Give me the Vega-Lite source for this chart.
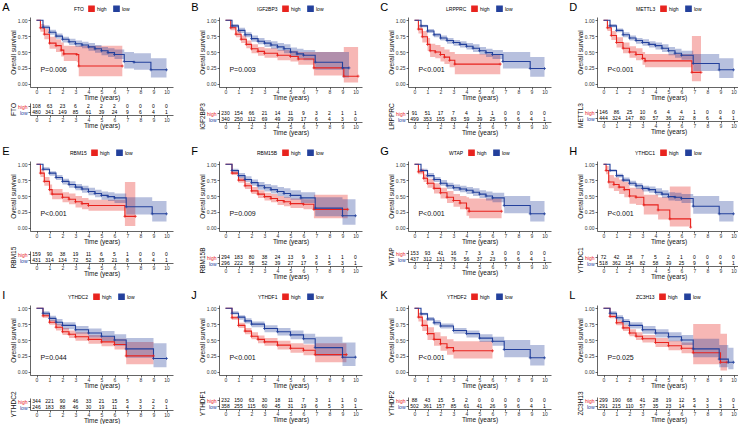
{
"$schema":"https://vega.github.io/schema/vega-lite/v6.json",
"padding":{"left":2,"top":2,"right":0,"bottom":0},
"columns":4,
"spacing":{"row":10,"column":18},
"resolve":{"scale":{"color":"independent"}},
"datasets":{
"km":[
{"p":"A","g":"high","t":0,"s":1,"l":1,"u":1},{"p":"A","g":"high","t":0.3,"s":0.88,"l":0.82,"u":0.94},{"p":"A","g":"high","t":0.6,"s":0.78,"l":0.7,"u":0.86},{"p":"A","g":"high","t":1,"s":0.64,"l":0.55,"u":0.74},{"p":"A","g":"high","t":1.5,"s":0.6,"l":0.5,"u":0.7},{"p":"A","g":"high","t":1.9,"s":0.53,"l":0.43,"u":0.65},{"p":"A","g":"high","t":2.1,"s":0.47,"l":0.36,"u":0.6},{"p":"A","g":"high","t":3.1,"s":0.46,"l":0.34,"u":0.59},{"p":"A","g":"high","t":3.25,"s":0.28,"l":0.12,"u":0.6},{"p":"A","g":"high","t":6.6,"s":0.28,"l":0.12,"u":0.6},
{"p":"A","g":"low","t":0,"s":1,"l":1,"u":1},{"p":"A","g":"low","t":0.5,"s":0.89,"l":0.86,"u":0.92},{"p":"A","g":"low","t":1,"s":0.81,"l":0.77,"u":0.85},{"p":"A","g":"low","t":1.5,"s":0.75,"l":0.71,"u":0.79},{"p":"A","g":"low","t":2,"s":0.7,"l":0.65,"u":0.74},{"p":"A","g":"low","t":2.5,"s":0.66,"l":0.61,"u":0.71},{"p":"A","g":"low","t":3,"s":0.63,"l":0.58,"u":0.68},{"p":"A","g":"low","t":3.5,"s":0.61,"l":0.56,"u":0.66},{"p":"A","g":"low","t":4,"s":0.58,"l":0.52,"u":0.64},{"p":"A","g":"low","t":4.5,"s":0.55,"l":0.49,"u":0.61},{"p":"A","g":"low","t":5,"s":0.52,"l":0.45,"u":0.58},{"p":"A","g":"low","t":5.5,"s":0.49,"l":0.42,"u":0.56},{"p":"A","g":"low","t":6,"s":0.46,"l":0.39,"u":0.54},{"p":"A","g":"low","t":6.75,"s":0.35,"l":0.24,"u":0.5},{"p":"A","g":"low","t":7.5,"s":0.34,"l":0.22,"u":0.48},{"p":"A","g":"low","t":8.8,"s":0.22,"l":0.1,"u":0.4},{"p":"A","g":"low","t":10,"s":0.22,"l":0.1,"u":0.4},
{"p":"B","g":"high","t":0,"s":1,"l":1,"u":1},{"p":"B","g":"high","t":0.4,"s":0.88,"l":0.84,"u":0.92},{"p":"B","g":"high","t":0.8,"s":0.78,"l":0.73,"u":0.83},{"p":"B","g":"high","t":1.2,"s":0.7,"l":0.64,"u":0.76},{"p":"B","g":"high","t":1.6,"s":0.62,"l":0.56,"u":0.68},{"p":"B","g":"high","t":2,"s":0.55,"l":0.48,"u":0.62},{"p":"B","g":"high","t":2.5,"s":0.51,"l":0.44,"u":0.58},{"p":"B","g":"high","t":3,"s":0.48,"l":0.41,"u":0.56},{"p":"B","g":"high","t":4,"s":0.45,"l":0.37,"u":0.53},{"p":"B","g":"high","t":5,"s":0.43,"l":0.35,"u":0.52},{"p":"B","g":"high","t":5.6,"s":0.39,"l":0.3,"u":0.5},{"p":"B","g":"high","t":6.8,"s":0.25,"l":0.13,"u":0.5},{"p":"B","g":"high","t":9.1,"s":0.12,"l":0.02,"u":0.58},{"p":"B","g":"high","t":10.2,"s":0.12,"l":0.02,"u":0.58},
{"p":"B","g":"low","t":0,"s":1,"l":1,"u":1},{"p":"B","g":"low","t":0.5,"s":0.91,"l":0.88,"u":0.94},{"p":"B","g":"low","t":1,"s":0.84,"l":0.8,"u":0.88},{"p":"B","g":"low","t":1.5,"s":0.77,"l":0.73,"u":0.81},{"p":"B","g":"low","t":2,"s":0.71,"l":0.66,"u":0.76},{"p":"B","g":"low","t":2.5,"s":0.67,"l":0.62,"u":0.72},{"p":"B","g":"low","t":3,"s":0.64,"l":0.58,"u":0.69},{"p":"B","g":"low","t":3.5,"s":0.61,"l":0.55,"u":0.67},{"p":"B","g":"low","t":4,"s":0.58,"l":0.52,"u":0.64},{"p":"B","g":"low","t":4.5,"s":0.55,"l":0.48,"u":0.62},{"p":"B","g":"low","t":5,"s":0.5,"l":0.43,"u":0.57},{"p":"B","g":"low","t":5.5,"s":0.47,"l":0.4,"u":0.55},{"p":"B","g":"low","t":6,"s":0.45,"l":0.37,"u":0.53},{"p":"B","g":"low","t":6.9,"s":0.34,"l":0.22,"u":0.5},{"p":"B","g":"low","t":9,"s":0.25,"l":0.1,"u":0.5},{"p":"B","g":"low","t":9.5,"s":0.25,"l":0.1,"u":0.5},
{"p":"C","g":"high","t":0,"s":1,"l":1,"u":1},{"p":"C","g":"high","t":0.3,"s":0.86,"l":0.79,"u":0.93},{"p":"C","g":"high","t":0.6,"s":0.74,"l":0.65,"u":0.83},{"p":"C","g":"high","t":1,"s":0.62,"l":0.52,"u":0.72},{"p":"C","g":"high","t":1.2,"s":0.52,"l":0.42,"u":0.63},{"p":"C","g":"high","t":1.6,"s":0.5,"l":0.4,"u":0.61},{"p":"C","g":"high","t":2,"s":0.46,"l":0.35,"u":0.58},{"p":"C","g":"high","t":2.3,"s":0.42,"l":0.31,"u":0.54},{"p":"C","g":"high","t":2.7,"s":0.37,"l":0.26,"u":0.5},{"p":"C","g":"high","t":3.1,"s":0.31,"l":0.15,"u":0.47},{"p":"C","g":"high","t":6.6,"s":0.31,"l":0.15,"u":0.47},
{"p":"C","g":"low","t":0,"s":1,"l":1,"u":1},{"p":"C","g":"low","t":0.5,"s":0.91,"l":0.89,"u":0.93},{"p":"C","g":"low","t":1,"s":0.83,"l":0.8,"u":0.86},{"p":"C","g":"low","t":1.5,"s":0.77,"l":0.73,"u":0.8},{"p":"C","g":"low","t":2,"s":0.72,"l":0.68,"u":0.76},{"p":"C","g":"low","t":2.5,"s":0.68,"l":0.63,"u":0.72},{"p":"C","g":"low","t":3,"s":0.65,"l":0.6,"u":0.69},{"p":"C","g":"low","t":3.5,"s":0.62,"l":0.57,"u":0.67},{"p":"C","g":"low","t":4,"s":0.59,"l":0.54,"u":0.64},{"p":"C","g":"low","t":4.5,"s":0.56,"l":0.5,"u":0.62},{"p":"C","g":"low","t":5,"s":0.52,"l":0.46,"u":0.58},{"p":"C","g":"low","t":5.5,"s":0.49,"l":0.42,"u":0.55},{"p":"C","g":"low","t":6,"s":0.46,"l":0.39,"u":0.53},{"p":"C","g":"low","t":6.8,"s":0.35,"l":0.24,"u":0.5},{"p":"C","g":"low","t":8.9,"s":0.24,"l":0.11,"u":0.42},{"p":"C","g":"low","t":10,"s":0.24,"l":0.11,"u":0.42},
{"p":"D","g":"high","t":0,"s":1,"l":1,"u":1},{"p":"D","g":"high","t":0.3,"s":0.88,"l":0.83,"u":0.93},{"p":"D","g":"high","t":0.6,"s":0.76,"l":0.69,"u":0.83},{"p":"D","g":"high","t":1,"s":0.65,"l":0.57,"u":0.73},{"p":"D","g":"high","t":1.5,"s":0.56,"l":0.48,"u":0.65},{"p":"D","g":"high","t":2,"s":0.5,"l":0.41,"u":0.59},{"p":"D","g":"high","t":2.5,"s":0.46,"l":0.37,"u":0.56},{"p":"D","g":"high","t":3,"s":0.4,"l":0.3,"u":0.5},{"p":"D","g":"high","t":3.2,"s":0.36,"l":0.26,"u":0.47},{"p":"D","g":"high","t":6.8,"s":0.18,"l":0.04,"u":0.75},{"p":"D","g":"high","t":7.5,"s":0.18,"l":0.04,"u":0.75},
{"p":"D","g":"low","t":0,"s":1,"l":1,"u":1},{"p":"D","g":"low","t":0.5,"s":0.91,"l":0.89,"u":0.94},{"p":"D","g":"low","t":1,"s":0.84,"l":0.81,"u":0.87},{"p":"D","g":"low","t":1.5,"s":0.77,"l":0.73,"u":0.81},{"p":"D","g":"low","t":2,"s":0.72,"l":0.68,"u":0.76},{"p":"D","g":"low","t":2.5,"s":0.68,"l":0.63,"u":0.72},{"p":"D","g":"low","t":3,"s":0.65,"l":0.6,"u":0.7},{"p":"D","g":"low","t":3.5,"s":0.62,"l":0.57,"u":0.67},{"p":"D","g":"low","t":4,"s":0.6,"l":0.54,"u":0.65},{"p":"D","g":"low","t":4.5,"s":0.56,"l":0.5,"u":0.62},{"p":"D","g":"low","t":5,"s":0.52,"l":0.45,"u":0.58},{"p":"D","g":"low","t":5.5,"s":0.48,"l":0.41,"u":0.55},{"p":"D","g":"low","t":6,"s":0.45,"l":0.38,"u":0.52},{"p":"D","g":"low","t":6.9,"s":0.32,"l":0.2,"u":0.47},{"p":"D","g":"low","t":8.9,"s":0.22,"l":0.09,"u":0.4},{"p":"D","g":"low","t":10,"s":0.22,"l":0.09,"u":0.4},
{"p":"E","g":"high","t":0,"s":1,"l":1,"u":1},{"p":"E","g":"high","t":0.3,"s":0.86,"l":0.8,"u":0.92},{"p":"E","g":"high","t":0.6,"s":0.73,"l":0.66,"u":0.8},{"p":"E","g":"high","t":1,"s":0.6,"l":0.52,"u":0.68},{"p":"E","g":"high","t":1.2,"s":0.53,"l":0.45,"u":0.61},{"p":"E","g":"high","t":2,"s":0.48,"l":0.4,"u":0.56},{"p":"E","g":"high","t":2.5,"s":0.45,"l":0.37,"u":0.54},{"p":"E","g":"high","t":3,"s":0.41,"l":0.32,"u":0.5},{"p":"E","g":"high","t":3.5,"s":0.38,"l":0.29,"u":0.47},{"p":"E","g":"high","t":4,"s":0.35,"l":0.27,"u":0.44},{"p":"E","g":"high","t":6.8,"s":0.18,"l":0.03,"u":0.72},{"p":"E","g":"high","t":7.6,"s":0.18,"l":0.03,"u":0.72},
{"p":"E","g":"low","t":0,"s":1,"l":1,"u":1},{"p":"E","g":"low","t":0.5,"s":0.92,"l":0.9,"u":0.95},{"p":"E","g":"low","t":1,"s":0.86,"l":0.82,"u":0.89},{"p":"E","g":"low","t":1.5,"s":0.79,"l":0.75,"u":0.83},{"p":"E","g":"low","t":2,"s":0.73,"l":0.68,"u":0.77},{"p":"E","g":"low","t":2.5,"s":0.68,"l":0.63,"u":0.73},{"p":"E","g":"low","t":3,"s":0.64,"l":0.59,"u":0.69},{"p":"E","g":"low","t":3.5,"s":0.61,"l":0.55,"u":0.66},{"p":"E","g":"low","t":4,"s":0.57,"l":0.51,"u":0.63},{"p":"E","g":"low","t":4.5,"s":0.54,"l":0.48,"u":0.6},{"p":"E","g":"low","t":5,"s":0.51,"l":0.44,"u":0.57},{"p":"E","g":"low","t":5.5,"s":0.49,"l":0.42,"u":0.56},{"p":"E","g":"low","t":6,"s":0.47,"l":0.39,"u":0.54},{"p":"E","g":"low","t":6.9,"s":0.33,"l":0.21,"u":0.48},{"p":"E","g":"low","t":8.9,"s":0.22,"l":0.1,"u":0.42},{"p":"E","g":"low","t":10,"s":0.22,"l":0.1,"u":0.42},
{"p":"F","g":"high","t":0,"s":1,"l":1,"u":1},{"p":"F","g":"high","t":0.5,"s":0.86,"l":0.83,"u":0.89},{"p":"F","g":"high","t":1,"s":0.75,"l":0.71,"u":0.79},{"p":"F","g":"high","t":1.5,"s":0.66,"l":0.61,"u":0.71},{"p":"F","g":"high","t":2,"s":0.58,"l":0.53,"u":0.64},{"p":"F","g":"high","t":2.5,"s":0.53,"l":0.47,"u":0.59},{"p":"F","g":"high","t":3,"s":0.49,"l":0.43,"u":0.55},{"p":"F","g":"high","t":3.5,"s":0.46,"l":0.4,"u":0.53},{"p":"F","g":"high","t":4,"s":0.43,"l":0.36,"u":0.5},{"p":"F","g":"high","t":4.5,"s":0.41,"l":0.34,"u":0.48},{"p":"F","g":"high","t":5,"s":0.38,"l":0.31,"u":0.46},{"p":"F","g":"high","t":6,"s":0.37,"l":0.29,"u":0.45},{"p":"F","g":"high","t":6.8,"s":0.29,"l":0.15,"u":0.52},{"p":"F","g":"high","t":9.4,"s":0.29,"l":0.15,"u":0.52},
{"p":"F","g":"low","t":0,"s":1,"l":1,"u":1},{"p":"F","g":"low","t":0.5,"s":0.9,"l":0.87,"u":0.93},{"p":"F","g":"low","t":1,"s":0.82,"l":0.78,"u":0.86},{"p":"F","g":"low","t":1.5,"s":0.76,"l":0.72,"u":0.81},{"p":"F","g":"low","t":2,"s":0.71,"l":0.66,"u":0.76},{"p":"F","g":"low","t":2.5,"s":0.66,"l":0.6,"u":0.72},{"p":"F","g":"low","t":3,"s":0.63,"l":0.57,"u":0.69},{"p":"F","g":"low","t":3.5,"s":0.6,"l":0.54,"u":0.67},{"p":"F","g":"low","t":4,"s":0.57,"l":0.5,"u":0.64},{"p":"F","g":"low","t":4.5,"s":0.54,"l":0.47,"u":0.62},{"p":"F","g":"low","t":5,"s":0.51,"l":0.44,"u":0.59},{"p":"F","g":"low","t":5.8,"s":0.47,"l":0.39,"u":0.56},{"p":"F","g":"low","t":6.9,"s":0.31,"l":0.18,"u":0.48},{"p":"F","g":"low","t":9,"s":0.19,"l":0.05,"u":0.45},{"p":"F","g":"low","t":10,"s":0.19,"l":0.05,"u":0.45},
{"p":"G","g":"high","t":0,"s":1,"l":1,"u":1},{"p":"G","g":"high","t":0.3,"s":0.88,"l":0.84,"u":0.93},{"p":"G","g":"high","t":0.7,"s":0.78,"l":0.72,"u":0.84},{"p":"G","g":"high","t":1,"s":0.7,"l":0.63,"u":0.77},{"p":"G","g":"high","t":1.5,"s":0.62,"l":0.54,"u":0.7},{"p":"G","g":"high","t":2,"s":0.55,"l":0.46,"u":0.63},{"p":"G","g":"high","t":2.5,"s":0.48,"l":0.39,"u":0.58},{"p":"G","g":"high","t":3,"s":0.43,"l":0.33,"u":0.53},{"p":"G","g":"high","t":3.5,"s":0.39,"l":0.29,"u":0.5},{"p":"G","g":"high","t":4,"s":0.31,"l":0.19,"u":0.48},{"p":"G","g":"high","t":4.2,"s":0.26,"l":0.15,"u":0.46},{"p":"G","g":"high","t":6.7,"s":0.26,"l":0.15,"u":0.46},
{"p":"G","g":"low","t":0,"s":1,"l":1,"u":1},{"p":"G","g":"low","t":0.5,"s":0.9,"l":0.88,"u":0.93},{"p":"G","g":"low","t":1,"s":0.82,"l":0.79,"u":0.86},{"p":"G","g":"low","t":1.5,"s":0.76,"l":0.72,"u":0.8},{"p":"G","g":"low","t":2,"s":0.7,"l":0.66,"u":0.75},{"p":"G","g":"low","t":2.5,"s":0.66,"l":0.61,"u":0.71},{"p":"G","g":"low","t":3,"s":0.63,"l":0.58,"u":0.68},{"p":"G","g":"low","t":3.5,"s":0.61,"l":0.56,"u":0.66},{"p":"G","g":"low","t":4,"s":0.59,"l":0.53,"u":0.64},{"p":"G","g":"low","t":4.5,"s":0.56,"l":0.5,"u":0.62},{"p":"G","g":"low","t":5,"s":0.53,"l":0.47,"u":0.59},{"p":"G","g":"low","t":5.5,"s":0.5,"l":0.43,"u":0.57},{"p":"G","g":"low","t":6,"s":0.47,"l":0.4,"u":0.55},{"p":"G","g":"low","t":6.9,"s":0.35,"l":0.23,"u":0.5},{"p":"G","g":"low","t":8.9,"s":0.22,"l":0.1,"u":0.42},{"p":"G","g":"low","t":10,"s":0.22,"l":0.1,"u":0.42},
{"p":"H","g":"high","t":0,"s":1,"l":1,"u":1},{"p":"H","g":"high","t":0.2,"s":0.9,"l":0.84,"u":0.97},{"p":"H","g":"high","t":0.4,"s":0.72,"l":0.62,"u":0.83},{"p":"H","g":"high","t":0.8,"s":0.68,"l":0.58,"u":0.79},{"p":"H","g":"high","t":1.2,"s":0.64,"l":0.53,"u":0.76},{"p":"H","g":"high","t":1.6,"s":0.6,"l":0.48,"u":0.72},{"p":"H","g":"high","t":2,"s":0.5,"l":0.38,"u":0.63},{"p":"H","g":"high","t":2.5,"s":0.48,"l":0.36,"u":0.62},{"p":"H","g":"high","t":3.1,"s":0.36,"l":0.21,"u":0.52},{"p":"H","g":"high","t":4.2,"s":0.28,"l":0.13,"u":0.48},{"p":"H","g":"high","t":5.1,"s":0.14,"l":0.02,"u":0.65},{"p":"H","g":"high","t":6.7,"s":0.01,"l":0.01,"u":0.65},
{"p":"H","g":"low","t":0,"s":1,"l":1,"u":1},{"p":"H","g":"low","t":0.5,"s":0.9,"l":0.88,"u":0.92},{"p":"H","g":"low","t":1,"s":0.82,"l":0.79,"u":0.85},{"p":"H","g":"low","t":1.5,"s":0.75,"l":0.72,"u":0.79},{"p":"H","g":"low","t":2,"s":0.7,"l":0.66,"u":0.74},{"p":"H","g":"low","t":2.5,"s":0.66,"l":0.61,"u":0.7},{"p":"H","g":"low","t":3,"s":0.62,"l":0.57,"u":0.66},{"p":"H","g":"low","t":3.5,"s":0.6,"l":0.55,"u":0.65},{"p":"H","g":"low","t":4,"s":0.56,"l":0.51,"u":0.62},{"p":"H","g":"low","t":4.5,"s":0.53,"l":0.47,"u":0.59},{"p":"H","g":"low","t":5,"s":0.49,"l":0.43,"u":0.56},{"p":"H","g":"low","t":5.5,"s":0.48,"l":0.42,"u":0.55},{"p":"H","g":"low","t":6,"s":0.46,"l":0.39,"u":0.53},{"p":"H","g":"low","t":6.9,"s":0.34,"l":0.22,"u":0.5},{"p":"H","g":"low","t":8.9,"s":0.22,"l":0.1,"u":0.42},{"p":"H","g":"low","t":10,"s":0.22,"l":0.1,"u":0.42},
{"p":"I","g":"high","t":0,"s":1,"l":1,"u":1},{"p":"I","g":"high","t":0.5,"s":0.88,"l":0.85,"u":0.91},{"p":"I","g":"high","t":1,"s":0.78,"l":0.74,"u":0.82},{"p":"I","g":"high","t":1.5,"s":0.7,"l":0.65,"u":0.75},{"p":"I","g":"high","t":2,"s":0.63,"l":0.58,"u":0.69},{"p":"I","g":"high","t":2.5,"s":0.59,"l":0.53,"u":0.65},{"p":"I","g":"high","t":3,"s":0.55,"l":0.49,"u":0.62},{"p":"I","g":"high","t":4,"s":0.51,"l":0.44,"u":0.58},{"p":"I","g":"high","t":5,"s":0.47,"l":0.4,"u":0.55},{"p":"I","g":"high","t":6,"s":0.43,"l":0.35,"u":0.52},{"p":"I","g":"high","t":6.9,"s":0.25,"l":0.12,"u":0.47},{"p":"I","g":"high","t":9,"s":0.25,"l":0.12,"u":0.47},
{"p":"I","g":"low","t":0,"s":1,"l":1,"u":1},{"p":"I","g":"low","t":0.5,"s":0.92,"l":0.89,"u":0.95},{"p":"I","g":"low","t":1,"s":0.84,"l":0.8,"u":0.88},{"p":"I","g":"low","t":1.5,"s":0.78,"l":0.73,"u":0.83},{"p":"I","g":"low","t":2,"s":0.73,"l":0.67,"u":0.78},{"p":"I","g":"low","t":3,"s":0.66,"l":0.6,"u":0.72},{"p":"I","g":"low","t":4,"s":0.61,"l":0.54,"u":0.68},{"p":"I","g":"low","t":5,"s":0.56,"l":0.48,"u":0.64},{"p":"I","g":"low","t":6,"s":0.5,"l":0.41,"u":0.59},{"p":"I","g":"low","t":6.9,"s":0.36,"l":0.22,"u":0.53},{"p":"I","g":"low","t":9,"s":0.21,"l":0.07,"u":0.45},{"p":"I","g":"low","t":10,"s":0.21,"l":0.07,"u":0.45},
{"p":"J","g":"high","t":0,"s":1,"l":1,"u":1},{"p":"J","g":"high","t":0.5,"s":0.85,"l":0.82,"u":0.88},{"p":"J","g":"high","t":1,"s":0.73,"l":0.69,"u":0.77},{"p":"J","g":"high","t":1.5,"s":0.64,"l":0.59,"u":0.69},{"p":"J","g":"high","t":2,"s":0.56,"l":0.51,"u":0.62},{"p":"J","g":"high","t":2.5,"s":0.51,"l":0.45,"u":0.57},{"p":"J","g":"high","t":3,"s":0.47,"l":0.41,"u":0.53},{"p":"J","g":"high","t":4,"s":0.42,"l":0.35,"u":0.49},{"p":"J","g":"high","t":5,"s":0.37,"l":0.3,"u":0.45},{"p":"J","g":"high","t":6,"s":0.34,"l":0.26,"u":0.43},{"p":"J","g":"high","t":6.9,"s":0.27,"l":0.15,"u":0.45},{"p":"J","g":"high","t":9.3,"s":0.27,"l":0.15,"u":0.45},
{"p":"J","g":"low","t":0,"s":1,"l":1,"u":1},{"p":"J","g":"low","t":0.5,"s":0.92,"l":0.9,"u":0.95},{"p":"J","g":"low","t":1,"s":0.86,"l":0.82,"u":0.89},{"p":"J","g":"low","t":1.5,"s":0.8,"l":0.76,"u":0.84},{"p":"J","g":"low","t":2,"s":0.75,"l":0.7,"u":0.79},{"p":"J","g":"low","t":3,"s":0.68,"l":0.62,"u":0.73},{"p":"J","g":"low","t":4,"s":0.63,"l":0.57,"u":0.69},{"p":"J","g":"low","t":5,"s":0.58,"l":0.51,"u":0.65},{"p":"J","g":"low","t":6,"s":0.52,"l":0.44,"u":0.6},{"p":"J","g":"low","t":6.9,"s":0.38,"l":0.25,"u":0.55},{"p":"J","g":"low","t":9,"s":0.23,"l":0.09,"u":0.46},{"p":"J","g":"low","t":10,"s":0.23,"l":0.09,"u":0.46},
{"p":"K","g":"high","t":0,"s":1,"l":1,"u":1},{"p":"K","g":"high","t":0.3,"s":0.86,"l":0.79,"u":0.93},{"p":"K","g":"high","t":0.6,"s":0.73,"l":0.64,"u":0.82},{"p":"K","g":"high","t":1,"s":0.6,"l":0.5,"u":0.7},{"p":"K","g":"high","t":1.5,"s":0.51,"l":0.41,"u":0.62},{"p":"K","g":"high","t":2,"s":0.44,"l":0.33,"u":0.56},{"p":"K","g":"high","t":2.5,"s":0.38,"l":0.27,"u":0.51},{"p":"K","g":"high","t":3,"s":0.33,"l":0.21,"u":0.48},{"p":"K","g":"high","t":6,"s":0.33,"l":0.21,"u":0.48},
{"p":"K","g":"low","t":0,"s":1,"l":1,"u":1},{"p":"K","g":"low","t":0.5,"s":0.91,"l":0.89,"u":0.93},{"p":"K","g":"low","t":1,"s":0.83,"l":0.8,"u":0.86},{"p":"K","g":"low","t":1.5,"s":0.77,"l":0.73,"u":0.81},{"p":"K","g":"low","t":2,"s":0.72,"l":0.68,"u":0.76},{"p":"K","g":"low","t":3,"s":0.65,"l":0.6,"u":0.69},{"p":"K","g":"low","t":4,"s":0.6,"l":0.54,"u":0.65},{"p":"K","g":"low","t":5,"s":0.53,"l":0.47,"u":0.59},{"p":"K","g":"low","t":6,"s":0.48,"l":0.41,"u":0.55},{"p":"K","g":"low","t":6.9,"s":0.35,"l":0.23,"u":0.5},{"p":"K","g":"low","t":8.9,"s":0.22,"l":0.1,"u":0.42},{"p":"K","g":"low","t":10,"s":0.22,"l":0.1,"u":0.42},
{"p":"L","g":"high","t":0,"s":1,"l":1,"u":1},{"p":"L","g":"high","t":0.5,"s":0.87,"l":0.84,"u":0.9},{"p":"L","g":"high","t":1,"s":0.77,"l":0.73,"u":0.81},{"p":"L","g":"high","t":1.5,"s":0.69,"l":0.64,"u":0.74},{"p":"L","g":"high","t":2,"s":0.61,"l":0.56,"u":0.67},{"p":"L","g":"high","t":2.5,"s":0.56,"l":0.5,"u":0.62},{"p":"L","g":"high","t":3,"s":0.52,"l":0.46,"u":0.58},{"p":"L","g":"high","t":4,"s":0.46,"l":0.39,"u":0.53},{"p":"L","g":"high","t":5,"s":0.41,"l":0.34,"u":0.49},{"p":"L","g":"high","t":6,"s":0.37,"l":0.29,"u":0.46},{"p":"L","g":"high","t":6.9,"s":0.3,"l":0.12,"u":0.75},{"p":"L","g":"high","t":9,"s":0.15,"l":0.02,"u":0.6},{"p":"L","g":"high","t":9.5,"s":0.15,"l":0.02,"u":0.6},
{"p":"L","g":"low","t":0,"s":1,"l":1,"u":1},{"p":"L","g":"low","t":0.5,"s":0.92,"l":0.89,"u":0.95},{"p":"L","g":"low","t":1,"s":0.85,"l":0.81,"u":0.89},{"p":"L","g":"low","t":1.5,"s":0.79,"l":0.74,"u":0.83},{"p":"L","g":"low","t":2,"s":0.73,"l":0.68,"u":0.78},{"p":"L","g":"low","t":3,"s":0.66,"l":0.6,"u":0.72},{"p":"L","g":"low","t":4,"s":0.61,"l":0.54,"u":0.67},{"p":"L","g":"low","t":5,"s":0.55,"l":0.48,"u":0.62},{"p":"L","g":"low","t":6,"s":0.5,"l":0.42,"u":0.58},{"p":"L","g":"low","t":6.9,"s":0.36,"l":0.23,"u":0.52},{"p":"L","g":"low","t":8.9,"s":0.2,"l":0.07,"u":0.42},{"p":"L","g":"low","t":9.6,"s":0.15,"l":0.04,"u":0.38},{"p":"L","g":"low","t":10,"s":0.15,"l":0.04,"u":0.38}
],
"rt":[
{"p":"A","g":"high","t":0,"n":108},{"p":"A","g":"high","t":1,"n":63},{"p":"A","g":"high","t":2,"n":23},{"p":"A","g":"high","t":3,"n":6},{"p":"A","g":"high","t":4,"n":2},{"p":"A","g":"high","t":5,"n":2},{"p":"A","g":"high","t":6,"n":2},{"p":"A","g":"high","t":7,"n":0},{"p":"A","g":"high","t":8,"n":0},{"p":"A","g":"high","t":9,"n":0},{"p":"A","g":"high","t":10,"n":0},
{"p":"A","g":"low","t":0,"n":480},{"p":"A","g":"low","t":1,"n":341},{"p":"A","g":"low","t":2,"n":149},{"p":"A","g":"low","t":3,"n":85},{"p":"A","g":"low","t":4,"n":61},{"p":"A","g":"low","t":5,"n":39},{"p":"A","g":"low","t":6,"n":24},{"p":"A","g":"low","t":7,"n":9},{"p":"A","g":"low","t":8,"n":6},{"p":"A","g":"low","t":9,"n":4},{"p":"A","g":"low","t":10,"n":1},
{"p":"B","g":"high","t":0,"n":230},{"p":"B","g":"high","t":1,"n":154},{"p":"B","g":"high","t":2,"n":66},{"p":"B","g":"high","t":3,"n":21},{"p":"B","g":"high","t":4,"n":14},{"p":"B","g":"high","t":5,"n":11},{"p":"B","g":"high","t":6,"n":9},{"p":"B","g":"high","t":7,"n":3},{"p":"B","g":"high","t":8,"n":2},{"p":"B","g":"high","t":9,"n":1},{"p":"B","g":"high","t":10,"n":1},
{"p":"B","g":"low","t":0,"n":340},{"p":"B","g":"low","t":1,"n":250},{"p":"B","g":"low","t":2,"n":112},{"p":"B","g":"low","t":3,"n":69},{"p":"B","g":"low","t":4,"n":49},{"p":"B","g":"low","t":5,"n":29},{"p":"B","g":"low","t":6,"n":17},{"p":"B","g":"low","t":7,"n":6},{"p":"B","g":"low","t":8,"n":4},{"p":"B","g":"low","t":9,"n":3},{"p":"B","g":"low","t":10,"n":0},
{"p":"C","g":"high","t":0,"n":91},{"p":"C","g":"high","t":1,"n":51},{"p":"C","g":"high","t":2,"n":17},{"p":"C","g":"high","t":3,"n":7},{"p":"C","g":"high","t":4,"n":4},{"p":"C","g":"high","t":5,"n":1},{"p":"C","g":"high","t":6,"n":1},{"p":"C","g":"high","t":7,"n":0},{"p":"C","g":"high","t":8,"n":0},{"p":"C","g":"high","t":9,"n":0},{"p":"C","g":"high","t":10,"n":0},
{"p":"C","g":"low","t":0,"n":499},{"p":"C","g":"low","t":1,"n":353},{"p":"C","g":"low","t":2,"n":155},{"p":"C","g":"low","t":3,"n":83},{"p":"C","g":"low","t":4,"n":59},{"p":"C","g":"low","t":5,"n":39},{"p":"C","g":"low","t":6,"n":25},{"p":"C","g":"low","t":7,"n":9},{"p":"C","g":"low","t":8,"n":6},{"p":"C","g":"low","t":9,"n":4},{"p":"C","g":"low","t":10,"n":1},
{"p":"D","g":"high","t":0,"n":146},{"p":"D","g":"high","t":1,"n":86},{"p":"D","g":"high","t":2,"n":25},{"p":"D","g":"high","t":3,"n":10},{"p":"D","g":"high","t":4,"n":6},{"p":"D","g":"high","t":5,"n":4},{"p":"D","g":"high","t":6,"n":4},{"p":"D","g":"high","t":7,"n":1},{"p":"D","g":"high","t":8,"n":0},{"p":"D","g":"high","t":9,"n":0},{"p":"D","g":"high","t":10,"n":0},
{"p":"D","g":"low","t":0,"n":444},{"p":"D","g":"low","t":1,"n":324},{"p":"D","g":"low","t":2,"n":147},{"p":"D","g":"low","t":3,"n":80},{"p":"D","g":"low","t":4,"n":57},{"p":"D","g":"low","t":5,"n":36},{"p":"D","g":"low","t":6,"n":22},{"p":"D","g":"low","t":7,"n":8},{"p":"D","g":"low","t":8,"n":6},{"p":"D","g":"low","t":9,"n":4},{"p":"D","g":"low","t":10,"n":1},
{"p":"E","g":"high","t":0,"n":159},{"p":"E","g":"high","t":1,"n":90},{"p":"E","g":"high","t":2,"n":38},{"p":"E","g":"high","t":3,"n":19},{"p":"E","g":"high","t":4,"n":11},{"p":"E","g":"high","t":5,"n":6},{"p":"E","g":"high","t":6,"n":5},{"p":"E","g":"high","t":7,"n":1},{"p":"E","g":"high","t":8,"n":0},{"p":"E","g":"high","t":9,"n":0},{"p":"E","g":"high","t":10,"n":0},
{"p":"E","g":"low","t":0,"n":431},{"p":"E","g":"low","t":1,"n":314},{"p":"E","g":"low","t":2,"n":134},{"p":"E","g":"low","t":3,"n":72},{"p":"E","g":"low","t":4,"n":52},{"p":"E","g":"low","t":5,"n":35},{"p":"E","g":"low","t":6,"n":21},{"p":"E","g":"low","t":7,"n":8},{"p":"E","g":"low","t":8,"n":6},{"p":"E","g":"low","t":9,"n":4},{"p":"E","g":"low","t":10,"n":1},
{"p":"F","g":"high","t":0,"n":294},{"p":"F","g":"high","t":1,"n":183},{"p":"F","g":"high","t":2,"n":80},{"p":"F","g":"high","t":3,"n":38},{"p":"F","g":"high","t":4,"n":24},{"p":"F","g":"high","t":5,"n":13},{"p":"F","g":"high","t":6,"n":9},{"p":"F","g":"high","t":7,"n":3},{"p":"F","g":"high","t":8,"n":1},{"p":"F","g":"high","t":9,"n":1},{"p":"F","g":"high","t":10,"n":0},
{"p":"F","g":"low","t":0,"n":296},{"p":"F","g":"low","t":1,"n":222},{"p":"F","g":"low","t":2,"n":98},{"p":"F","g":"low","t":3,"n":52},{"p":"F","g":"low","t":4,"n":39},{"p":"F","g":"low","t":5,"n":27},{"p":"F","g":"low","t":6,"n":17},{"p":"F","g":"low","t":7,"n":6},{"p":"F","g":"low","t":8,"n":5},{"p":"F","g":"low","t":9,"n":3},{"p":"F","g":"low","t":10,"n":1},
{"p":"G","g":"high","t":0,"n":153},{"p":"G","g":"high","t":1,"n":93},{"p":"G","g":"high","t":2,"n":41},{"p":"G","g":"high","t":3,"n":16},{"p":"G","g":"high","t":4,"n":7},{"p":"G","g":"high","t":5,"n":3},{"p":"G","g":"high","t":6,"n":3},{"p":"G","g":"high","t":7,"n":0},{"p":"G","g":"high","t":8,"n":0},{"p":"G","g":"high","t":9,"n":0},{"p":"G","g":"high","t":10,"n":0},
{"p":"G","g":"low","t":0,"n":437},{"p":"G","g":"low","t":1,"n":312},{"p":"G","g":"low","t":2,"n":131},{"p":"G","g":"low","t":3,"n":76},{"p":"G","g":"low","t":4,"n":56},{"p":"G","g":"low","t":5,"n":37},{"p":"G","g":"low","t":6,"n":23},{"p":"G","g":"low","t":7,"n":9},{"p":"G","g":"low","t":8,"n":6},{"p":"G","g":"low","t":9,"n":4},{"p":"G","g":"low","t":10,"n":1},
{"p":"H","g":"high","t":0,"n":72},{"p":"H","g":"high","t":1,"n":42},{"p":"H","g":"high","t":2,"n":18},{"p":"H","g":"high","t":3,"n":7},{"p":"H","g":"high","t":4,"n":5},{"p":"H","g":"high","t":5,"n":2},{"p":"H","g":"high","t":6,"n":1},{"p":"H","g":"high","t":7,"n":0},{"p":"H","g":"high","t":8,"n":0},{"p":"H","g":"high","t":9,"n":0},{"p":"H","g":"high","t":10,"n":0},
{"p":"H","g":"low","t":0,"n":518},{"p":"H","g":"low","t":1,"n":362},{"p":"H","g":"low","t":2,"n":154},{"p":"H","g":"low","t":3,"n":82},{"p":"H","g":"low","t":4,"n":58},{"p":"H","g":"low","t":5,"n":39},{"p":"H","g":"low","t":6,"n":25},{"p":"H","g":"low","t":7,"n":9},{"p":"H","g":"low","t":8,"n":6},{"p":"H","g":"low","t":9,"n":4},{"p":"H","g":"low","t":10,"n":1},
{"p":"I","g":"high","t":0,"n":344},{"p":"I","g":"high","t":1,"n":221},{"p":"I","g":"high","t":2,"n":90},{"p":"I","g":"high","t":3,"n":46},{"p":"I","g":"high","t":4,"n":33},{"p":"I","g":"high","t":5,"n":21},{"p":"I","g":"high","t":6,"n":15},{"p":"I","g":"high","t":7,"n":5},{"p":"I","g":"high","t":8,"n":3},{"p":"I","g":"high","t":9,"n":2},{"p":"I","g":"high","t":10,"n":0},
{"p":"I","g":"low","t":0,"n":246},{"p":"I","g":"low","t":1,"n":183},{"p":"I","g":"low","t":2,"n":88},{"p":"I","g":"low","t":3,"n":46},{"p":"I","g":"low","t":4,"n":30},{"p":"I","g":"low","t":5,"n":19},{"p":"I","g":"low","t":6,"n":11},{"p":"I","g":"low","t":7,"n":4},{"p":"I","g":"low","t":8,"n":3},{"p":"I","g":"low","t":9,"n":2},{"p":"I","g":"low","t":10,"n":1},
{"p":"J","g":"high","t":0,"n":232},{"p":"J","g":"high","t":1,"n":150},{"p":"J","g":"high","t":2,"n":63},{"p":"J","g":"high","t":3,"n":30},{"p":"J","g":"high","t":4,"n":18},{"p":"J","g":"high","t":5,"n":11},{"p":"J","g":"high","t":6,"n":7},{"p":"J","g":"high","t":7,"n":3},{"p":"J","g":"high","t":8,"n":1},{"p":"J","g":"high","t":9,"n":1},{"p":"J","g":"high","t":10,"n":0},
{"p":"J","g":"low","t":0,"n":358},{"p":"J","g":"low","t":1,"n":255},{"p":"J","g":"low","t":2,"n":115},{"p":"J","g":"low","t":3,"n":60},{"p":"J","g":"low","t":4,"n":45},{"p":"J","g":"low","t":5,"n":31},{"p":"J","g":"low","t":6,"n":19},{"p":"J","g":"low","t":7,"n":6},{"p":"J","g":"low","t":8,"n":5},{"p":"J","g":"low","t":9,"n":3},{"p":"J","g":"low","t":10,"n":1},
{"p":"K","g":"high","t":0,"n":88},{"p":"K","g":"high","t":1,"n":43},{"p":"K","g":"high","t":2,"n":15},{"p":"K","g":"high","t":3,"n":5},{"p":"K","g":"high","t":4,"n":2},{"p":"K","g":"high","t":5,"n":0},{"p":"K","g":"high","t":6,"n":0},{"p":"K","g":"high","t":7,"n":0},{"p":"K","g":"high","t":8,"n":0},{"p":"K","g":"high","t":9,"n":0},{"p":"K","g":"high","t":10,"n":0},
{"p":"K","g":"low","t":0,"n":502},{"p":"K","g":"low","t":1,"n":361},{"p":"K","g":"low","t":2,"n":157},{"p":"K","g":"low","t":3,"n":85},{"p":"K","g":"low","t":4,"n":61},{"p":"K","g":"low","t":5,"n":41},{"p":"K","g":"low","t":6,"n":26},{"p":"K","g":"low","t":7,"n":9},{"p":"K","g":"low","t":8,"n":6},{"p":"K","g":"low","t":9,"n":4},{"p":"K","g":"low","t":10,"n":1},
{"p":"L","g":"high","t":0,"n":299},{"p":"L","g":"high","t":1,"n":190},{"p":"L","g":"high","t":2,"n":68},{"p":"L","g":"high","t":3,"n":41},{"p":"L","g":"high","t":4,"n":28},{"p":"L","g":"high","t":5,"n":19},{"p":"L","g":"high","t":6,"n":12},{"p":"L","g":"high","t":7,"n":5},{"p":"L","g":"high","t":8,"n":3},{"p":"L","g":"high","t":9,"n":1},{"p":"L","g":"high","t":10,"n":0},
{"p":"L","g":"low","t":0,"n":291},{"p":"L","g":"low","t":1,"n":215},{"p":"L","g":"low","t":2,"n":110},{"p":"L","g":"low","t":3,"n":57},{"p":"L","g":"low","t":4,"n":35},{"p":"L","g":"low","t":5,"n":23},{"p":"L","g":"low","t":6,"n":14},{"p":"L","g":"low","t":7,"n":4},{"p":"L","g":"low","t":8,"n":3},{"p":"L","g":"low","t":9,"n":3},{"p":"L","g":"low","t":10,"n":1}
]
},
"concat":[
{"resolve":{"scale":{"color":"independent"}},"spacing":1,"vconcat":[
 {"title":"A","width":143,"height":70,"data":{"name":"km"},"transform":[{"filter":"datum.p=='A'"}],
  "encoding":{"x":{"field":"t","type":"quantitative","scale":{"domain":[-0.5,10.5],"nice":false},"title":"Time (years)"},"color":{"field":"g","type":"nominal","scale":{"domain":["high","low"],"range":["#e8231e","#23409c"]},"legend":{"title":"FTO"}}},
  "layer":[
   {"mark":{"type":"area","interpolate":"step-after","fillOpacity":0.33},"encoding":{"y":{"field":"l","type":"quantitative","scale":{"domain":[-0.05,1.05],"nice":false},"axis":{"values":[0,0.25,0.5,0.75,1],"format":".2f"},"title":"Overall survival"},"y2":{"field":"u"}}},
   {"mark":{"type":"line","interpolate":"step-after"},"encoding":{"y":{"field":"s","type":"quantitative","axis":{"values":[0,0.25,0.5,0.75,1],"format":".2f"},"title":"Overall survival"}}},
   {"mark":{"type":"point","shape":"M-1,0H1M0,-1V1","size":9,"strokeWidth":0.7,"filled":false,"opacity":1},"transform":[{"filter":"datum.t>0"}],"encoding":{"y":{"field":"s","type":"quantitative","axis":{"values":[0,0.25,0.5,0.75,1],"format":".2f"},"title":"Overall survival"}}},
   {"transform":[{"filter":"datum.t==0 && datum.g=='high'"}],"mark":{"type":"text","align":"left","fontSize":7},"encoding":{"x":{"datum":0.3,"title":"Time (years)"},"y":{"datum":0.22,"axis":{"values":[0,0.25,0.5,0.75,1],"format":".2f"},"title":"Overall survival"},"text":{"value":"P=0.006"},"color":{"value":"#111"}}}
  ]},
 {"width":143,"height":12,"data":{"name":"rt"},"transform":[{"filter":"datum.p=='A'"}],"mark":"text","encoding":{"x":{"field":"t","type":"quantitative","scale":{"domain":[-0.5,10.5],"nice":false},"title":"Time (years)"},"y":{"field":"g","type":"nominal","sort":["high","low"],"title":"FTO","axis":{"labelColor":{"expr":"datum.value=='high'?'#e8231e':'#23409c'"}}},"text":{"field":"n"}}}
]},
{"resolve":{"scale":{"color":"independent"}},"spacing":1,"vconcat":[
 {"title":"B","width":143,"height":70,"data":{"name":"km"},"transform":[{"filter":"datum.p=='B'"}],
  "encoding":{"x":{"field":"t","type":"quantitative","scale":{"domain":[-0.5,10.5],"nice":false},"title":"Time (years)"},"color":{"field":"g","type":"nominal","scale":{"domain":["high","low"],"range":["#e8231e","#23409c"]},"legend":{"title":"IGF2BP3"}}},
  "layer":[
   {"mark":{"type":"area","interpolate":"step-after","fillOpacity":0.33},"encoding":{"y":{"field":"l","type":"quantitative","scale":{"domain":[-0.05,1.05],"nice":false},"axis":{"values":[0,0.25,0.5,0.75,1],"format":".2f"},"title":"Overall survival"},"y2":{"field":"u"}}},
   {"mark":{"type":"line","interpolate":"step-after"},"encoding":{"y":{"field":"s","type":"quantitative","axis":{"values":[0,0.25,0.5,0.75,1],"format":".2f"},"title":"Overall survival"}}},
   {"mark":{"type":"point","shape":"M-1,0H1M0,-1V1","size":9,"strokeWidth":0.7,"filled":false,"opacity":1},"transform":[{"filter":"datum.t>0"}],"encoding":{"y":{"field":"s","type":"quantitative","axis":{"values":[0,0.25,0.5,0.75,1],"format":".2f"},"title":"Overall survival"}}},
   {"transform":[{"filter":"datum.t==0 && datum.g=='high'"}],"mark":{"type":"text","align":"left","fontSize":7},"encoding":{"x":{"datum":0.3,"title":"Time (years)"},"y":{"datum":0.22,"axis":{"values":[0,0.25,0.5,0.75,1],"format":".2f"},"title":"Overall survival"},"text":{"value":"P=0.003"},"color":{"value":"#111"}}}
  ]},
 {"width":143,"height":12,"data":{"name":"rt"},"transform":[{"filter":"datum.p=='B'"}],"mark":"text","encoding":{"x":{"field":"t","type":"quantitative","scale":{"domain":[-0.5,10.5],"nice":false},"title":"Time (years)"},"y":{"field":"g","type":"nominal","sort":["high","low"],"title":"IGF2BP3","axis":{"labelColor":{"expr":"datum.value=='high'?'#e8231e':'#23409c'"}}},"text":{"field":"n"}}}
]},
{"resolve":{"scale":{"color":"independent"}},"spacing":1,"vconcat":[
 {"title":"C","width":143,"height":70,"data":{"name":"km"},"transform":[{"filter":"datum.p=='C'"}],
  "encoding":{"x":{"field":"t","type":"quantitative","scale":{"domain":[-0.5,10.5],"nice":false},"title":"Time (years)"},"color":{"field":"g","type":"nominal","scale":{"domain":["high","low"],"range":["#e8231e","#23409c"]},"legend":{"title":"LRPPRC"}}},
  "layer":[
   {"mark":{"type":"area","interpolate":"step-after","fillOpacity":0.33},"encoding":{"y":{"field":"l","type":"quantitative","scale":{"domain":[-0.05,1.05],"nice":false},"axis":{"values":[0,0.25,0.5,0.75,1],"format":".2f"},"title":"Overall survival"},"y2":{"field":"u"}}},
   {"mark":{"type":"line","interpolate":"step-after"},"encoding":{"y":{"field":"s","type":"quantitative","axis":{"values":[0,0.25,0.5,0.75,1],"format":".2f"},"title":"Overall survival"}}},
   {"mark":{"type":"point","shape":"M-1,0H1M0,-1V1","size":9,"strokeWidth":0.7,"filled":false,"opacity":1},"transform":[{"filter":"datum.t>0"}],"encoding":{"y":{"field":"s","type":"quantitative","axis":{"values":[0,0.25,0.5,0.75,1],"format":".2f"},"title":"Overall survival"}}},
   {"transform":[{"filter":"datum.t==0 && datum.g=='high'"}],"mark":{"type":"text","align":"left","fontSize":7},"encoding":{"x":{"datum":0.3,"title":"Time (years)"},"y":{"datum":0.22,"axis":{"values":[0,0.25,0.5,0.75,1],"format":".2f"},"title":"Overall survival"},"text":{"value":"P<0.001"},"color":{"value":"#111"}}}
  ]},
 {"width":143,"height":12,"data":{"name":"rt"},"transform":[{"filter":"datum.p=='C'"}],"mark":"text","encoding":{"x":{"field":"t","type":"quantitative","scale":{"domain":[-0.5,10.5],"nice":false},"title":"Time (years)"},"y":{"field":"g","type":"nominal","sort":["high","low"],"title":"LRPPRC","axis":{"labelColor":{"expr":"datum.value=='high'?'#e8231e':'#23409c'"}}},"text":{"field":"n"}}}
]},
{"resolve":{"scale":{"color":"independent"}},"spacing":1,"vconcat":[
 {"title":"D","width":143,"height":70,"data":{"name":"km"},"transform":[{"filter":"datum.p=='D'"}],
  "encoding":{"x":{"field":"t","type":"quantitative","scale":{"domain":[-0.5,10.5],"nice":false},"title":"Time (years)"},"color":{"field":"g","type":"nominal","scale":{"domain":["high","low"],"range":["#e8231e","#23409c"]},"legend":{"title":"METTL3"}}},
  "layer":[
   {"mark":{"type":"area","interpolate":"step-after","fillOpacity":0.33},"encoding":{"y":{"field":"l","type":"quantitative","scale":{"domain":[-0.05,1.05],"nice":false},"axis":{"values":[0,0.25,0.5,0.75,1],"format":".2f"},"title":"Overall survival"},"y2":{"field":"u"}}},
   {"mark":{"type":"line","interpolate":"step-after"},"encoding":{"y":{"field":"s","type":"quantitative","axis":{"values":[0,0.25,0.5,0.75,1],"format":".2f"},"title":"Overall survival"}}},
   {"mark":{"type":"point","shape":"M-1,0H1M0,-1V1","size":9,"strokeWidth":0.7,"filled":false,"opacity":1},"transform":[{"filter":"datum.t>0"}],"encoding":{"y":{"field":"s","type":"quantitative","axis":{"values":[0,0.25,0.5,0.75,1],"format":".2f"},"title":"Overall survival"}}},
   {"transform":[{"filter":"datum.t==0 && datum.g=='high'"}],"mark":{"type":"text","align":"left","fontSize":7},"encoding":{"x":{"datum":0.3,"title":"Time (years)"},"y":{"datum":0.22,"axis":{"values":[0,0.25,0.5,0.75,1],"format":".2f"},"title":"Overall survival"},"text":{"value":"P<0.001"},"color":{"value":"#111"}}}
  ]},
 {"width":143,"height":12,"data":{"name":"rt"},"transform":[{"filter":"datum.p=='D'"}],"mark":"text","encoding":{"x":{"field":"t","type":"quantitative","scale":{"domain":[-0.5,10.5],"nice":false},"title":"Time (years)"},"y":{"field":"g","type":"nominal","sort":["high","low"],"title":"METTL3","axis":{"labelColor":{"expr":"datum.value=='high'?'#e8231e':'#23409c'"}}},"text":{"field":"n"}}}
]},
{"resolve":{"scale":{"color":"independent"}},"spacing":1,"vconcat":[
 {"title":"E","width":143,"height":70,"data":{"name":"km"},"transform":[{"filter":"datum.p=='E'"}],
  "encoding":{"x":{"field":"t","type":"quantitative","scale":{"domain":[-0.5,10.5],"nice":false},"title":"Time (years)"},"color":{"field":"g","type":"nominal","scale":{"domain":["high","low"],"range":["#e8231e","#23409c"]},"legend":{"title":"RBM15"}}},
  "layer":[
   {"mark":{"type":"area","interpolate":"step-after","fillOpacity":0.33},"encoding":{"y":{"field":"l","type":"quantitative","scale":{"domain":[-0.05,1.05],"nice":false},"axis":{"values":[0,0.25,0.5,0.75,1],"format":".2f"},"title":"Overall survival"},"y2":{"field":"u"}}},
   {"mark":{"type":"line","interpolate":"step-after"},"encoding":{"y":{"field":"s","type":"quantitative","axis":{"values":[0,0.25,0.5,0.75,1],"format":".2f"},"title":"Overall survival"}}},
   {"mark":{"type":"point","shape":"M-1,0H1M0,-1V1","size":9,"strokeWidth":0.7,"filled":false,"opacity":1},"transform":[{"filter":"datum.t>0"}],"encoding":{"y":{"field":"s","type":"quantitative","axis":{"values":[0,0.25,0.5,0.75,1],"format":".2f"},"title":"Overall survival"}}},
   {"transform":[{"filter":"datum.t==0 && datum.g=='high'"}],"mark":{"type":"text","align":"left","fontSize":7},"encoding":{"x":{"datum":0.3,"title":"Time (years)"},"y":{"datum":0.22,"axis":{"values":[0,0.25,0.5,0.75,1],"format":".2f"},"title":"Overall survival"},"text":{"value":"P<0.001"},"color":{"value":"#111"}}}
  ]},
 {"width":143,"height":12,"data":{"name":"rt"},"transform":[{"filter":"datum.p=='E'"}],"mark":"text","encoding":{"x":{"field":"t","type":"quantitative","scale":{"domain":[-0.5,10.5],"nice":false},"title":"Time (years)"},"y":{"field":"g","type":"nominal","sort":["high","low"],"title":"RBM15","axis":{"labelColor":{"expr":"datum.value=='high'?'#e8231e':'#23409c'"}}},"text":{"field":"n"}}}
]},
{"resolve":{"scale":{"color":"independent"}},"spacing":1,"vconcat":[
 {"title":"F","width":143,"height":70,"data":{"name":"km"},"transform":[{"filter":"datum.p=='F'"}],
  "encoding":{"x":{"field":"t","type":"quantitative","scale":{"domain":[-0.5,10.5],"nice":false},"title":"Time (years)"},"color":{"field":"g","type":"nominal","scale":{"domain":["high","low"],"range":["#e8231e","#23409c"]},"legend":{"title":"RBM15B"}}},
  "layer":[
   {"mark":{"type":"area","interpolate":"step-after","fillOpacity":0.33},"encoding":{"y":{"field":"l","type":"quantitative","scale":{"domain":[-0.05,1.05],"nice":false},"axis":{"values":[0,0.25,0.5,0.75,1],"format":".2f"},"title":"Overall survival"},"y2":{"field":"u"}}},
   {"mark":{"type":"line","interpolate":"step-after"},"encoding":{"y":{"field":"s","type":"quantitative","axis":{"values":[0,0.25,0.5,0.75,1],"format":".2f"},"title":"Overall survival"}}},
   {"mark":{"type":"point","shape":"M-1,0H1M0,-1V1","size":9,"strokeWidth":0.7,"filled":false,"opacity":1},"transform":[{"filter":"datum.t>0"}],"encoding":{"y":{"field":"s","type":"quantitative","axis":{"values":[0,0.25,0.5,0.75,1],"format":".2f"},"title":"Overall survival"}}},
   {"transform":[{"filter":"datum.t==0 && datum.g=='high'"}],"mark":{"type":"text","align":"left","fontSize":7},"encoding":{"x":{"datum":0.3,"title":"Time (years)"},"y":{"datum":0.22,"axis":{"values":[0,0.25,0.5,0.75,1],"format":".2f"},"title":"Overall survival"},"text":{"value":"P=0.009"},"color":{"value":"#111"}}}
  ]},
 {"width":143,"height":12,"data":{"name":"rt"},"transform":[{"filter":"datum.p=='F'"}],"mark":"text","encoding":{"x":{"field":"t","type":"quantitative","scale":{"domain":[-0.5,10.5],"nice":false},"title":"Time (years)"},"y":{"field":"g","type":"nominal","sort":["high","low"],"title":"RBM15B","axis":{"labelColor":{"expr":"datum.value=='high'?'#e8231e':'#23409c'"}}},"text":{"field":"n"}}}
]},
{"resolve":{"scale":{"color":"independent"}},"spacing":1,"vconcat":[
 {"title":"G","width":143,"height":70,"data":{"name":"km"},"transform":[{"filter":"datum.p=='G'"}],
  "encoding":{"x":{"field":"t","type":"quantitative","scale":{"domain":[-0.5,10.5],"nice":false},"title":"Time (years)"},"color":{"field":"g","type":"nominal","scale":{"domain":["high","low"],"range":["#e8231e","#23409c"]},"legend":{"title":"WTAP"}}},
  "layer":[
   {"mark":{"type":"area","interpolate":"step-after","fillOpacity":0.33},"encoding":{"y":{"field":"l","type":"quantitative","scale":{"domain":[-0.05,1.05],"nice":false},"axis":{"values":[0,0.25,0.5,0.75,1],"format":".2f"},"title":"Overall survival"},"y2":{"field":"u"}}},
   {"mark":{"type":"line","interpolate":"step-after"},"encoding":{"y":{"field":"s","type":"quantitative","axis":{"values":[0,0.25,0.5,0.75,1],"format":".2f"},"title":"Overall survival"}}},
   {"mark":{"type":"point","shape":"M-1,0H1M0,-1V1","size":9,"strokeWidth":0.7,"filled":false,"opacity":1},"transform":[{"filter":"datum.t>0"}],"encoding":{"y":{"field":"s","type":"quantitative","axis":{"values":[0,0.25,0.5,0.75,1],"format":".2f"},"title":"Overall survival"}}},
   {"transform":[{"filter":"datum.t==0 && datum.g=='high'"}],"mark":{"type":"text","align":"left","fontSize":7},"encoding":{"x":{"datum":0.3,"title":"Time (years)"},"y":{"datum":0.22,"axis":{"values":[0,0.25,0.5,0.75,1],"format":".2f"},"title":"Overall survival"},"text":{"value":"P<0.001"},"color":{"value":"#111"}}}
  ]},
 {"width":143,"height":12,"data":{"name":"rt"},"transform":[{"filter":"datum.p=='G'"}],"mark":"text","encoding":{"x":{"field":"t","type":"quantitative","scale":{"domain":[-0.5,10.5],"nice":false},"title":"Time (years)"},"y":{"field":"g","type":"nominal","sort":["high","low"],"title":"WTAP","axis":{"labelColor":{"expr":"datum.value=='high'?'#e8231e':'#23409c'"}}},"text":{"field":"n"}}}
]},
{"resolve":{"scale":{"color":"independent"}},"spacing":1,"vconcat":[
 {"title":"H","width":143,"height":70,"data":{"name":"km"},"transform":[{"filter":"datum.p=='H'"}],
  "encoding":{"x":{"field":"t","type":"quantitative","scale":{"domain":[-0.5,10.5],"nice":false},"title":"Time (years)"},"color":{"field":"g","type":"nominal","scale":{"domain":["high","low"],"range":["#e8231e","#23409c"]},"legend":{"title":"YTHDC1"}}},
  "layer":[
   {"mark":{"type":"area","interpolate":"step-after","fillOpacity":0.33},"encoding":{"y":{"field":"l","type":"quantitative","scale":{"domain":[-0.05,1.05],"nice":false},"axis":{"values":[0,0.25,0.5,0.75,1],"format":".2f"},"title":"Overall survival"},"y2":{"field":"u"}}},
   {"mark":{"type":"line","interpolate":"step-after"},"encoding":{"y":{"field":"s","type":"quantitative","axis":{"values":[0,0.25,0.5,0.75,1],"format":".2f"},"title":"Overall survival"}}},
   {"mark":{"type":"point","shape":"M-1,0H1M0,-1V1","size":9,"strokeWidth":0.7,"filled":false,"opacity":1},"transform":[{"filter":"datum.t>0"}],"encoding":{"y":{"field":"s","type":"quantitative","axis":{"values":[0,0.25,0.5,0.75,1],"format":".2f"},"title":"Overall survival"}}},
   {"transform":[{"filter":"datum.t==0 && datum.g=='high'"}],"mark":{"type":"text","align":"left","fontSize":7},"encoding":{"x":{"datum":0.3,"title":"Time (years)"},"y":{"datum":0.22,"axis":{"values":[0,0.25,0.5,0.75,1],"format":".2f"},"title":"Overall survival"},"text":{"value":"P<0.001"},"color":{"value":"#111"}}}
  ]},
 {"width":143,"height":12,"data":{"name":"rt"},"transform":[{"filter":"datum.p=='H'"}],"mark":"text","encoding":{"x":{"field":"t","type":"quantitative","scale":{"domain":[-0.5,10.5],"nice":false},"title":"Time (years)"},"y":{"field":"g","type":"nominal","sort":["high","low"],"title":"YTHDC1","axis":{"labelColor":{"expr":"datum.value=='high'?'#e8231e':'#23409c'"}}},"text":{"field":"n"}}}
]},
{"resolve":{"scale":{"color":"independent"}},"spacing":1,"vconcat":[
 {"title":"I","width":143,"height":70,"data":{"name":"km"},"transform":[{"filter":"datum.p=='I'"}],
  "encoding":{"x":{"field":"t","type":"quantitative","scale":{"domain":[-0.5,10.5],"nice":false},"title":"Time (years)"},"color":{"field":"g","type":"nominal","scale":{"domain":["high","low"],"range":["#e8231e","#23409c"]},"legend":{"title":"YTHDC2"}}},
  "layer":[
   {"mark":{"type":"area","interpolate":"step-after","fillOpacity":0.33},"encoding":{"y":{"field":"l","type":"quantitative","scale":{"domain":[-0.05,1.05],"nice":false},"axis":{"values":[0,0.25,0.5,0.75,1],"format":".2f"},"title":"Overall survival"},"y2":{"field":"u"}}},
   {"mark":{"type":"line","interpolate":"step-after"},"encoding":{"y":{"field":"s","type":"quantitative","axis":{"values":[0,0.25,0.5,0.75,1],"format":".2f"},"title":"Overall survival"}}},
   {"mark":{"type":"point","shape":"M-1,0H1M0,-1V1","size":9,"strokeWidth":0.7,"filled":false,"opacity":1},"transform":[{"filter":"datum.t>0"}],"encoding":{"y":{"field":"s","type":"quantitative","axis":{"values":[0,0.25,0.5,0.75,1],"format":".2f"},"title":"Overall survival"}}},
   {"transform":[{"filter":"datum.t==0 && datum.g=='high'"}],"mark":{"type":"text","align":"left","fontSize":7},"encoding":{"x":{"datum":0.3,"title":"Time (years)"},"y":{"datum":0.22,"axis":{"values":[0,0.25,0.5,0.75,1],"format":".2f"},"title":"Overall survival"},"text":{"value":"P=0.044"},"color":{"value":"#111"}}}
  ]},
 {"width":143,"height":12,"data":{"name":"rt"},"transform":[{"filter":"datum.p=='I'"}],"mark":"text","encoding":{"x":{"field":"t","type":"quantitative","scale":{"domain":[-0.5,10.5],"nice":false},"title":"Time (years)"},"y":{"field":"g","type":"nominal","sort":["high","low"],"title":"YTHDC2","axis":{"labelColor":{"expr":"datum.value=='high'?'#e8231e':'#23409c'"}}},"text":{"field":"n"}}}
]},
{"resolve":{"scale":{"color":"independent"}},"spacing":1,"vconcat":[
 {"title":"J","width":143,"height":70,"data":{"name":"km"},"transform":[{"filter":"datum.p=='J'"}],
  "encoding":{"x":{"field":"t","type":"quantitative","scale":{"domain":[-0.5,10.5],"nice":false},"title":"Time (years)"},"color":{"field":"g","type":"nominal","scale":{"domain":["high","low"],"range":["#e8231e","#23409c"]},"legend":{"title":"YTHDF1"}}},
  "layer":[
   {"mark":{"type":"area","interpolate":"step-after","fillOpacity":0.33},"encoding":{"y":{"field":"l","type":"quantitative","scale":{"domain":[-0.05,1.05],"nice":false},"axis":{"values":[0,0.25,0.5,0.75,1],"format":".2f"},"title":"Overall survival"},"y2":{"field":"u"}}},
   {"mark":{"type":"line","interpolate":"step-after"},"encoding":{"y":{"field":"s","type":"quantitative","axis":{"values":[0,0.25,0.5,0.75,1],"format":".2f"},"title":"Overall survival"}}},
   {"mark":{"type":"point","shape":"M-1,0H1M0,-1V1","size":9,"strokeWidth":0.7,"filled":false,"opacity":1},"transform":[{"filter":"datum.t>0"}],"encoding":{"y":{"field":"s","type":"quantitative","axis":{"values":[0,0.25,0.5,0.75,1],"format":".2f"},"title":"Overall survival"}}},
   {"transform":[{"filter":"datum.t==0 && datum.g=='high'"}],"mark":{"type":"text","align":"left","fontSize":7},"encoding":{"x":{"datum":0.3,"title":"Time (years)"},"y":{"datum":0.22,"axis":{"values":[0,0.25,0.5,0.75,1],"format":".2f"},"title":"Overall survival"},"text":{"value":"P<0.001"},"color":{"value":"#111"}}}
  ]},
 {"width":143,"height":12,"data":{"name":"rt"},"transform":[{"filter":"datum.p=='J'"}],"mark":"text","encoding":{"x":{"field":"t","type":"quantitative","scale":{"domain":[-0.5,10.5],"nice":false},"title":"Time (years)"},"y":{"field":"g","type":"nominal","sort":["high","low"],"title":"YTHDF1","axis":{"labelColor":{"expr":"datum.value=='high'?'#e8231e':'#23409c'"}}},"text":{"field":"n"}}}
]},
{"resolve":{"scale":{"color":"independent"}},"spacing":1,"vconcat":[
 {"title":"K","width":143,"height":70,"data":{"name":"km"},"transform":[{"filter":"datum.p=='K'"}],
  "encoding":{"x":{"field":"t","type":"quantitative","scale":{"domain":[-0.5,10.5],"nice":false},"title":"Time (years)"},"color":{"field":"g","type":"nominal","scale":{"domain":["high","low"],"range":["#e8231e","#23409c"]},"legend":{"title":"YTHDF2"}}},
  "layer":[
   {"mark":{"type":"area","interpolate":"step-after","fillOpacity":0.33},"encoding":{"y":{"field":"l","type":"quantitative","scale":{"domain":[-0.05,1.05],"nice":false},"axis":{"values":[0,0.25,0.5,0.75,1],"format":".2f"},"title":"Overall survival"},"y2":{"field":"u"}}},
   {"mark":{"type":"line","interpolate":"step-after"},"encoding":{"y":{"field":"s","type":"quantitative","axis":{"values":[0,0.25,0.5,0.75,1],"format":".2f"},"title":"Overall survival"}}},
   {"mark":{"type":"point","shape":"M-1,0H1M0,-1V1","size":9,"strokeWidth":0.7,"filled":false,"opacity":1},"transform":[{"filter":"datum.t>0"}],"encoding":{"y":{"field":"s","type":"quantitative","axis":{"values":[0,0.25,0.5,0.75,1],"format":".2f"},"title":"Overall survival"}}},
   {"transform":[{"filter":"datum.t==0 && datum.g=='high'"}],"mark":{"type":"text","align":"left","fontSize":7},"encoding":{"x":{"datum":0.3,"title":"Time (years)"},"y":{"datum":0.22,"axis":{"values":[0,0.25,0.5,0.75,1],"format":".2f"},"title":"Overall survival"},"text":{"value":"P<0.001"},"color":{"value":"#111"}}}
  ]},
 {"width":143,"height":12,"data":{"name":"rt"},"transform":[{"filter":"datum.p=='K'"}],"mark":"text","encoding":{"x":{"field":"t","type":"quantitative","scale":{"domain":[-0.5,10.5],"nice":false},"title":"Time (years)"},"y":{"field":"g","type":"nominal","sort":["high","low"],"title":"YTHDF2","axis":{"labelColor":{"expr":"datum.value=='high'?'#e8231e':'#23409c'"}}},"text":{"field":"n"}}}
]},
{"resolve":{"scale":{"color":"independent"}},"spacing":1,"vconcat":[
 {"title":"L","width":143,"height":70,"data":{"name":"km"},"transform":[{"filter":"datum.p=='L'"}],
  "encoding":{"x":{"field":"t","type":"quantitative","scale":{"domain":[-0.5,10.5],"nice":false},"title":"Time (years)"},"color":{"field":"g","type":"nominal","scale":{"domain":["high","low"],"range":["#e8231e","#23409c"]},"legend":{"title":"ZC3H13"}}},
  "layer":[
   {"mark":{"type":"area","interpolate":"step-after","fillOpacity":0.33},"encoding":{"y":{"field":"l","type":"quantitative","scale":{"domain":[-0.05,1.05],"nice":false},"axis":{"values":[0,0.25,0.5,0.75,1],"format":".2f"},"title":"Overall survival"},"y2":{"field":"u"}}},
   {"mark":{"type":"line","interpolate":"step-after"},"encoding":{"y":{"field":"s","type":"quantitative","axis":{"values":[0,0.25,0.5,0.75,1],"format":".2f"},"title":"Overall survival"}}},
   {"mark":{"type":"point","shape":"M-1,0H1M0,-1V1","size":9,"strokeWidth":0.7,"filled":false,"opacity":1},"transform":[{"filter":"datum.t>0"}],"encoding":{"y":{"field":"s","type":"quantitative","axis":{"values":[0,0.25,0.5,0.75,1],"format":".2f"},"title":"Overall survival"}}},
   {"transform":[{"filter":"datum.t==0 && datum.g=='high'"}],"mark":{"type":"text","align":"left","fontSize":7},"encoding":{"x":{"datum":0.3,"title":"Time (years)"},"y":{"datum":0.22,"axis":{"values":[0,0.25,0.5,0.75,1],"format":".2f"},"title":"Overall survival"},"text":{"value":"P=0.025"},"color":{"value":"#111"}}}
  ]},
 {"width":143,"height":12,"data":{"name":"rt"},"transform":[{"filter":"datum.p=='L'"}],"mark":"text","encoding":{"x":{"field":"t","type":"quantitative","scale":{"domain":[-0.5,10.5],"nice":false},"title":"Time (years)"},"y":{"field":"g","type":"nominal","sort":["high","low"],"title":"ZC3H13","axis":{"labelColor":{"expr":"datum.value=='high'?'#e8231e':'#23409c'"}}},"text":{"field":"n"}}}
]}
],
"config":{
 "font":"Liberation Sans",
 "view":{"stroke":null},
 "axis":{"grid":false,"labelFontSize":5,"titleFontSize":6.5,"titleFontWeight":"normal","tickSize":2,"labelPadding":1,"titlePadding":1,"domainColor":"#222","tickColor":"#222","labelColor":"#333","titleColor":"#111","domainWidth":0.7,"tickWidth":0.7,"labelOverlap":false},
 "axisX":{"tickCount":11,"labelFlush":false,"labelPadding":0.5,"titlePadding":0},
 "legend":{"orient":"top","direction":"horizontal","titleOrient":"left","titleFontSize":5,"titleFontWeight":"normal","labelFontSize":5,"symbolSize":30,"symbolType":"square","offset":3,"padding":0,"columnPadding":4,"labelOffset":2,"titlePadding":4,"layout":{"top":{"anchor":"middle"}}},
 "title":{"anchor":"start","fontSize":11,"fontWeight":"normal","offset":-8,"dx":-8},
 "text":{"fontSize":5},
 "line":{"strokeWidth":1.1}
}
}
